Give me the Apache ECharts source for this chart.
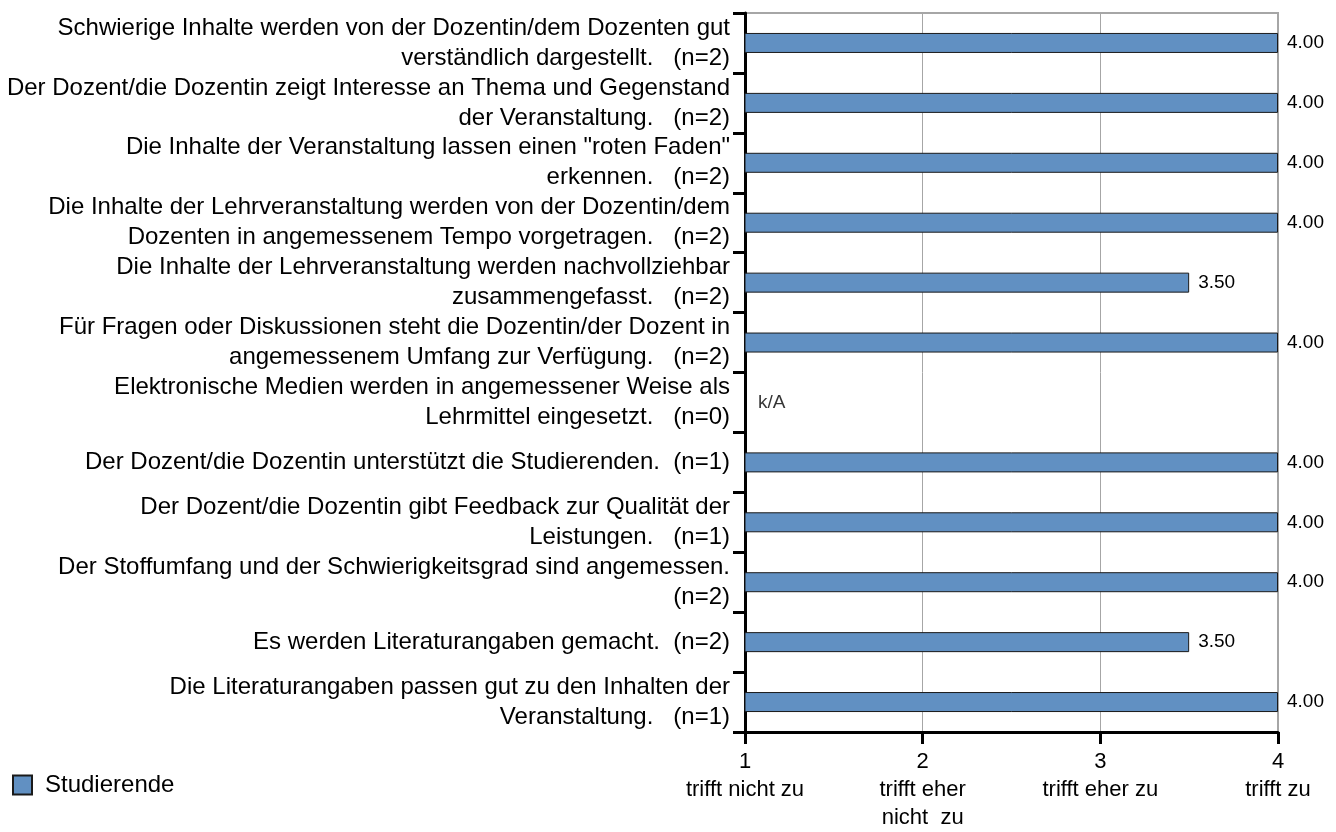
<!DOCTYPE html>
<html>
<head>
<meta charset="utf-8">
<script src="https://cdn.jsdelivr.net/npm/echarts@6/dist/echarts.min.js"></script>
<style>
  html, body { margin: 0; padding: 0; background: #fff; }
  #main { width: 1336px; height: 832px; }
</style>
</head>
<body>
<div id="main"></div>
<script>
// questions (top to bottom)
var questions = [
  'Schwierige Inhalte werden von der Dozentin/dem Dozenten gut\nverständlich dargestellt.',
  'Der Dozent/die Dozentin zeigt Interesse an Thema und Gegenstand\nder Veranstaltung.',
  'Die Inhalte der Veranstaltung lassen einen "roten Faden"\nerkennen.',
  'Die Inhalte der Lehrveranstaltung werden von der Dozentin/dem\nDozenten in angemessenem Tempo vorgetragen.',
  'Die Inhalte der Lehrveranstaltung werden nachvollziehbar\nzusammengefasst.',
  'Für Fragen oder Diskussionen steht die Dozentin/der Dozent in\nangemessenem Umfang zur Verfügung.',
  'Elektronische Medien werden in angemessener Weise als\nLehrmittel eingesetzt.',
  'Der Dozent/die Dozentin unterstützt die Studierenden.',
  'Der Dozent/die Dozentin gibt Feedback zur Qualität der\nLeistungen.',
  'Der Stoffumfang und der Schwierigkeitsgrad sind angemessen.\n',
  'Es werden Literaturangaben gemacht.',
  'Die Literaturangaben passen gut zu den Inhalten der\nVeranstaltung.'
];
var counts = [2, 2, 2, 2, 2, 2, 0, 1, 1, 2, 2, 1];
// mean score, null = no answers (k/A)
var scores = [4, 4, 4, 4, 3.5, 4, null, 4, 4, 4, 3.5, 4];
var scaleTicks = ['1\ntrifft nicht zu', '2\ntrifft eher\nnicht  zu', '3\ntrifft eher zu', '4\ntrifft zu'];

var categories = questions.map(function (q, i) {
  var lastLine = q.split('\n').pop();
  var gap = lastLine === '' ? '' : (q.indexOf('\n') >= 0 ? '   ' : '  ');
  return q + gap + '(n=' + counts[i] + ')';
});
var noAnswer = [];
scores.forEach(function (v, i) { if (v === null) noAnswer.push([1, i]); });

var FONT = '"Liberation Sans", Arial, sans-serif';
var myChart = echarts.init(document.getElementById('main'));

var option = {
  animation: false,
  grid: {
    left: 745, right: 58, top: 13, bottom: 99,
    show: true, borderColor: '#a6a6a6', borderWidth: 2, backgroundColor: 'transparent'
  },
  legend: {
    left: 12, top: 773, padding: 0,
    icon: 'rect', itemWidth: 19, itemHeight: 19,
    data: ['Studierende'],
    textStyle: { fontFamily: FONT, fontSize: 24, color: '#000', padding: [0, 0, 0, 8] }
  },
  xAxis: {
    type: 'value', min: 1, max: 4, interval: 1,
    axisLine: { show: true, lineStyle: { color: '#000', width: 3 } },
    axisTick: { show: true, length: 12, lineStyle: { color: '#000', width: 3 } },
    splitLine: { show: true, lineStyle: { color: '#a6a6a6', width: 1 } },
    axisLabel: {
      margin: 16, fontFamily: FONT, fontSize: 22, lineHeight: 28, color: '#000',
      formatter: function (v) { return scaleTicks[Math.round(v) - 1]; }
    }
  },
  yAxis: {
    type: 'category', inverse: true, data: categories,
    axisLine: { show: true, lineStyle: { color: '#000', width: 3 } },
    axisTick: { show: true, length: 12, lineStyle: { color: '#000', width: 3 } },
    splitLine: { show: false },
    axisLabel: {
      interval: 0, margin: 15, fontFamily: FONT, fontSize: 24, lineHeight: 30,
      color: '#000', align: 'right'
    }
  },
  series: [
    {
      name: 'Studierende',
      type: 'bar',
      data: scores,
      barWidth: 20,
      itemStyle: { color: '#6190c2', borderColor: '#1a1a1a', borderWidth: 1 },
      label: {
        show: true, position: 'right', distance: 9,
        fontFamily: FONT, fontSize: 19, color: '#000',
        formatter: function (p) { return p.value.toFixed(2); }
      }
    },
    {
      type: 'scatter',
      data: noAnswer,
      symbolSize: 0,
      silent: true,
      label: {
        show: true, position: 'right', distance: 13,
        fontFamily: FONT, fontSize: 19, color: '#000',
        formatter: 'k/A'
      }
    }
  ]
};

myChart.setOption(option);
</script>
</body>
</html>
